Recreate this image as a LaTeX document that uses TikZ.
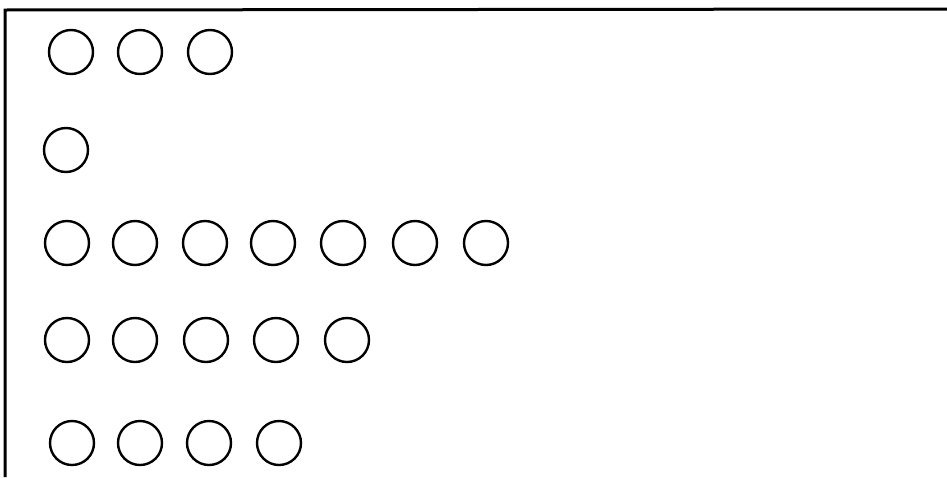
\documentclass[tikz,border=0pt]{standalone}
\begin{document}
\begin{tikzpicture}[x=1pt,y=-1pt,
  dot/.style={circle,draw=black,line width=2.4pt,minimum size=44pt,inner sep=0pt},
  frame/.style={draw=black,line width=3pt}]
\useasboundingbox (0,0) rectangle (947,477);
\coordinate (fb) at (5,477);
\coordinate (fc) at (5,10);
\coordinate (fr) at (947,9);
\draw[frame] (fb) -- (fc) -- (fr);
% row 1
\foreach \x [count=\i] in {71,140,210} \node[dot] (a\i) at (\x,52) {};
% row 2
\node[dot] (b1) at (66,150) {};
% row 3
\foreach \x [count=\i] in {67,135,205,273,343,415,486} \node[dot] (c\i) at (\x,243) {};
% row 4
\foreach \x [count=\i] in {67,135,206,276,347} \node[dot] (d\i) at (\x,340) {};
% row 5
\foreach \x [count=\i] in {72,140,209,279} \node[dot] (e\i) at (\x,443) {};
\end{tikzpicture}
\end{document}
